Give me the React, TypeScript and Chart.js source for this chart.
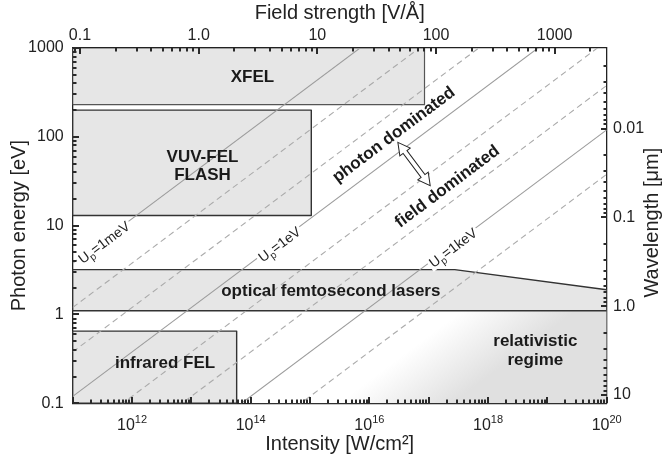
import React, { useEffect, useRef } from 'react';
import { Chart, registerables } from 'chart.js';

Chart.register(...registerables);

const FONT = '"Liberation Sans", Arial, Helvetica, sans-serif';

// ---------- axis ranges ----------
const intensityMin = 1e11;
const intensityMax = 1e20;
const energyMin = 0.1;
const energyMax = 1000;
const fieldMin = 0.0868; // V/Å at 1e11 W/cm²
const fieldMax = 2745; // V/Å at 1e20 W/cm²
const wavelengthTop = 0.00124; // µm at 1000 eV
const wavelengthBottom = 12.4; // µm at 0.1 eV

// ---------- tick labels ----------
const energyTicks = [0.1, 1, 10, 100, 1000];
const energyTickLabels = ['0.1', '1', '10', '100', '1000'];
const fieldTicks = [0.1, 1, 10, 100, 1000];
const fieldTickLabels = ['0.1', '1.0', '10', '100', '1000'];
const wavelengthTicks = [0.01, 0.1, 1, 10];
const wavelengthTickLabels = ['0.01', '0.1', '1.0', '10'];
const intensityLabelTicks = [1e12, 1e14, 1e16, 1e18, 1e20];
const intensityLabelExps = ['12', '14', '16', '18', '20'];

// ---------- constant ponderomotive-energy lines ----------
const upNames = ['1meV', '10meV', '100meV', '1eV', '10eV', '100eV', '1keV', '10keV'];
const upSolid = [true, false, false, true, false, false, true, false];
const upStartE = [3.788, 1.1978, 0.3788, 0.11978, 0.03788, 0.011978, 0.003788, 0.0011978]; // eV at 1e11 W/cm²
const upEndE = [119780, 37878, 11978, 3787.8, 1197.8, 378.78, 119.78, 37.878]; // eV at 1e20 W/cm²
const upLabelAt = [3.2e11, 0, 0, 2.9e14, 0, 0, 2.44e17, 0]; // intensity at label centre (0 = no label)

// ---------- source regions ----------
const xfelI = [1e11, 8.5e16, 8.5e16, 1e11, 1e11];
const xfelE = [1000, 1000, 230, 230, 1000];
const vuvI = [1e11, 1.05e15, 1.05e15, 1e11, 1e11];
const vuvE = [200, 200, 13, 13, 200];
const opticalI = [1e11, 2.75e17, 1e20, 1e20, 1e11, 1e11];
const opticalE = [3.2, 3.2, 1.9, 1.1, 1.1, 3.2];
const irI = [1e11, 5.8e13, 5.8e13, 1e11, 1e11];
const irE = [0.65, 0.65, 0.1, 0.1, 0.65];
const relI = [1e14, 1e20, 1e20, 1e14, 1e14];
const relE = [1.1, 1.1, 0.1, 0.1, 1.1];
const relFadeStartI = 3e15;
const relFadeEndI = 2.5e17;

// ---------- annotations ----------
const regionLabels = [
  { lines: ['XFEL'], I: 1.07e14, E: 466 },
  { lines: ['VUV-FEL', 'FLASH'], I: 1.54e13, E: 46.2 },
  { lines: ['optical femtosecond lasers'], I: 2.24e15, E: 1.81 },
  { lines: ['infrared FEL'], I: 3.6e12, E: 0.279 },
  { lines: ['relativistic', 'regime'], I: 6.27e18, E: 0.39 },
];
const slopeLabels = [
  { text: 'photon dominated', I: 2.6e16, E: 105 },
  { text: 'field dominated', I: 2.07e17, E: 27.4 },
];
const arrowAt = { I: 5.66e16, E: 49.4 };

// minor-tick multipliers inside each decade (1 = major)
const decadeSteps = [1, 2, 3, 4, 5, 6, 7, 8, 9];

const pts = (xs: number[], ys: number[]) => xs.map((x, i) => ({ x, y: ys[i] }));

function lineAngle(chart: any) {
  const xs = chart.scales.x, ys = chart.scales.y;
  const ax = xs.getPixelForValue(intensityMin), ay = ys.getPixelForValue(upStartE[3]);
  const bx = xs.getPixelForValue(intensityMax), by = ys.getPixelForValue(upEndE[3]);
  return Math.atan2(by - ay, bx - ax);
}

function relGradient(context: any) {
  const chart = context.chart;
  if (!chart.chartArea || !chart.scales.x || !chart.scales.y) return 'rgba(0,0,0,0)';
  const xs = chart.scales.x, ys = chart.scales.y;
  const ang = lineAngle(chart);
  const nx = -Math.sin(ang), ny = Math.cos(ang);
  const p0x = xs.getPixelForValue(relFadeStartI), p0y = ys.getPixelForValue(energyMin);
  const p1x = xs.getPixelForValue(relFadeEndI);
  const d = (p1x - p0x) * nx;
  const g = chart.ctx.createLinearGradient(p0x, p0y, p0x + nx * d, p0y + ny * d);
  g.addColorStop(0, 'rgba(255,255,255,1)');
  g.addColorStop(1, '#e0e0e0');
  return g;
}

function logTickValues(min: number, max: number) {
  const out: { v: number; major: boolean }[] = [];
  const e0 = Math.floor(Math.log10(min));
  const e1 = Math.ceil(Math.log10(max));
  for (let e = e0; e <= e1; e++) {
    for (let j = 0; j < decadeSteps.length; j++) {
      const k = decadeSteps[j];
      const v = k * Math.pow(10, e);
      if (v >= min * 0.9999 && v <= max * 1.0001) out.push({ v, major: k === 1 });
    }
  }
  return out;
}

const overlayPlugin = {
  id: 'overlay',
  afterDraw(chart: any) {
    const ctx = chart.ctx;
    const a = chart.chartArea;
    const xs = chart.scales.x, ys = chart.scales.y, xt = chart.scales.x2, yr = chart.scales.y2;
    ctx.save();

    // ---- inward tick marks ----
    ctx.fillStyle = '#2a2a2a';
    const MAJ = 6, MINR = 3.5;
    const bottom = Math.round(a.bottom), top = Math.round(a.top);
    const left = Math.round(a.left), right = Math.round(a.right);
    const tb = logTickValues(intensityMin, intensityMax);
    for (let i = 0; i < tb.length; i++) {
      const x = Math.round(xs.getPixelForValue(tb[i].v));
      const len = tb[i].major ? MAJ : MINR;
      ctx.fillRect(x - 1, bottom - len, 2, len);
    }
    const tt = logTickValues(fieldMin, fieldMax);
    for (let i = 0; i < tt.length; i++) {
      const x = Math.round(xt.getPixelForValue(tt[i].v));
      const len = tt[i].major ? MAJ : MINR;
      ctx.fillRect(x - 1, top, 2, len);
    }
    const tl = logTickValues(energyMin, energyMax);
    for (let i = 0; i < tl.length; i++) {
      const y = Math.round(ys.getPixelForValue(tl[i].v));
      const len = tl[i].major ? MAJ : MINR;
      ctx.fillRect(left, y - 1, len, 2);
    }
    const tr = logTickValues(wavelengthTop, wavelengthBottom);
    for (let i = 0; i < tr.length; i++) {
      const y = Math.round(yr.getPixelForValue(tr[i].v));
      const len = tr[i].major ? MAJ : MINR;
      ctx.fillRect(right - len, y - 1, len, 2);
    }

    // ---- bottom tick labels with superscripts ----
    ctx.fillStyle = '#222';
    ctx.textAlign = 'left';
    ctx.textBaseline = 'alphabetic';
    intensityLabelTicks.forEach((v, i) => {
      const x = xs.getPixelForValue(v);
      ctx.font = `16px ${FONT}`;
      const wb = ctx.measureText('10').width;
      ctx.font = `11px ${FONT}`;
      const ws = ctx.measureText(intensityLabelExps[i]).width;
      const x0 = x - (wb + ws) / 2;
      const base = a.bottom + 26.5;
      ctx.font = `16px ${FONT}`;
      ctx.fillText('10', x0, base);
      ctx.font = `11px ${FONT}`;
      ctx.fillText(intensityLabelExps[i], x0 + wb, base - 7);
    });

    // ---- right axis title (reads bottom to top) ----
    ctx.save();
    ctx.translate(652, (a.top + a.bottom) / 2 - 3);
    ctx.rotate(-Math.PI / 2);
    ctx.font = `20px ${FONT}`;
    ctx.textAlign = 'center';
    ctx.textBaseline = 'middle';
    ctx.fillText('Wavelength [\u03bcm]', 0, 0);
    ctx.restore();

    const ang = lineAngle(chart);
    const nx = -Math.sin(ang), ny = Math.cos(ang);

    // ---- Up labels on solid lines ----
    upLabelAt.forEach((I, i) => {
      if (!I) return;
      const ax = xs.getPixelForValue(intensityMin), ay = ys.getPixelForValue(upStartE[i]);
      const bx = xs.getPixelForValue(intensityMax), by = ys.getPixelForValue(upEndE[i]);
      const px = xs.getPixelForValue(I);
      const py = ay + ((px - ax) * (by - ay)) / (bx - ax);
      ctx.save();
      ctx.translate(px + nx * 2, py + ny * 2);
      ctx.rotate(ang);
      ctx.font = `14px ${FONT}`;
      const wU = ctx.measureText('U').width;
      const rest = '=' + upNames[i];
      const wR = ctx.measureText(rest).width;
      ctx.font = `10px ${FONT}`;
      const wP = ctx.measureText('p').width;
      const w = wU + wP + wR;
      ctx.fillStyle = '#ffffff';
      ctx.fillRect(-w / 2 - 2, -7, w + 4, 15);
      ctx.fillStyle = '#222';
      ctx.textAlign = 'left';
      ctx.textBaseline = 'alphabetic';
      ctx.font = `14px ${FONT}`;
      ctx.fillText('U', -w / 2, 5);
      ctx.font = `10px ${FONT}`;
      ctx.fillText('p', -w / 2 + wU, 8.5);
      ctx.font = `14px ${FONT}`;
      ctx.fillText(rest, -w / 2 + wU + wP, 5);
      ctx.restore();
    });

    // ---- region labels ----
    ctx.fillStyle = '#1a1a1a';
    ctx.font = `bold 17px ${FONT}`;
    ctx.textAlign = 'center';
    ctx.textBaseline = 'middle';
    for (const r of regionLabels) {
      const x = xs.getPixelForValue(r.I), y = ys.getPixelForValue(r.E);
      const lh = 18.3;
      r.lines.forEach((s, k) => {
        ctx.fillText(s, x, y + (k - (r.lines.length - 1) / 2) * lh);
      });
    }

    // ---- rotated regime labels ----
    for (const s of slopeLabels) {
      const x = xs.getPixelForValue(s.I), y = ys.getPixelForValue(s.E);
      ctx.save();
      ctx.translate(x, y);
      ctx.rotate(ang);
      ctx.fillText(s.text, 0, 0);
      ctx.restore();
    }

    // ---- hollow double arrow ----
    {
      const x = xs.getPixelForValue(arrowAt.I), y = ys.getPixelForValue(arrowAt.E);
      const L = 54, h = 12, hw = 6.5, sw = 2.4;
      ctx.save();
      ctx.translate(x, y);
      ctx.rotate(Math.atan2(ny, nx));
      ctx.beginPath();
      ctx.moveTo(-L / 2, 0);
      ctx.lineTo(-L / 2 + h, -hw);
      ctx.lineTo(-L / 2 + h, -sw);
      ctx.lineTo(L / 2 - h, -sw);
      ctx.lineTo(L / 2 - h, -hw);
      ctx.lineTo(L / 2, 0);
      ctx.lineTo(L / 2 - h, hw);
      ctx.lineTo(L / 2 - h, sw);
      ctx.lineTo(-L / 2 + h, sw);
      ctx.lineTo(-L / 2 + h, hw);
      ctx.closePath();
      ctx.fillStyle = '#ffffff';
      ctx.fill();
      ctx.strokeStyle = '#222';
      ctx.lineWidth = 1;
      ctx.setLineDash([]);
      ctx.stroke();
      ctx.restore();
    }

    ctx.restore();
  },
};

export default function App() {
  const ref = useRef<HTMLCanvasElement>(null);

  useEffect(() => {
    document.body.style.margin = '0';
    document.body.style.overflow = 'hidden';
    Chart.defaults.font.family = FONT;
    Chart.defaults.color = '#222';

    const datasets: any[] = [];
    upNames.forEach((name, i) => {
      datasets.push({
        label: 'Up=' + name,
        data: [
          { x: intensityMin, y: upStartE[i] },
          { x: intensityMax, y: upEndE[i] },
        ],
        borderColor: upSolid[i] ? '#9c9c9c' : '#ababab',
        borderWidth: 1.1,
        borderDash: upSolid[i] ? [] : [6, 4],
        pointRadius: 0,
        fill: false,
        order: 1,
      });
    });
    const box = (label: string, xs: number[], ys: number[], color: string, width: number) => ({
      label,
      data: pts(xs, ys),
      borderColor: color,
      borderWidth: width,
      backgroundColor: '#e6e6e6',
      borderJoinStyle: 'round',
      pointRadius: 0,
      fill: 'shape',
      order: 2,
    });
    datasets.push(box('XFEL', xfelI, xfelE, '#555', 1.2));
    datasets.push(box('VUV-FEL FLASH', vuvI, vuvE, '#333', 1.4));
    datasets.push(box('optical femtosecond lasers', opticalI, opticalE, '#333', 1.4));
    datasets.push(box('infrared FEL', irI, irE, '#333', 1.4));
    datasets.push({
      label: 'relativistic regime',
      data: pts(relI, relE),
      borderWidth: 0,
      borderColor: 'rgba(0,0,0,0)',
      backgroundColor: relGradient,
      pointRadius: 0,
      fill: 'shape',
      order: 3,
    });

    const hidden = { display: false, drawTicks: false };
    const border = { display: true, color: '#222', width: 1.3 };

    const chart = new Chart(ref.current as HTMLCanvasElement, {
      type: 'line',
      data: { datasets },
      plugins: [overlayPlugin],
      options: {
        animation: false,
        responsive: false,
        events: [],
        layout: { padding: 0 },
        plugins: { legend: { display: false }, tooltip: { enabled: false } },
        scales: {
          x: {
            type: 'logarithmic', position: 'bottom', min: intensityMin, max: intensityMax, z: 1,
            grid: hidden, border, ticks: { display: false },
            afterBuildTicks: (s: any) => { s.ticks = intensityLabelTicks.map((v) => ({ value: v })); },
            title: { display: true, text: 'Intensity [W/cm\u00b2]', font: { size: 20 }, color: '#222', padding: { top: 0, bottom: 4.5 } },
            afterFit: (s: any) => { s.height = 57.7; },
          },
          x2: {
            type: 'logarithmic', position: 'top', min: fieldMin, max: fieldMax, z: 1,
            grid: hidden, border,
            ticks: { autoSkip: false, maxRotation: 0, padding: 2.5, font: { size: 16 }, color: '#222', callback: (_v: any, i: number) => fieldTickLabels[i] },
            afterBuildTicks: (s: any) => { s.ticks = fieldTicks.map((v) => ({ value: v })); },
            title: { display: true, text: 'Field strength [V/\u00c5]', font: { size: 20 }, color: '#222', padding: { top: 1.5, bottom: 0 } },
            afterFit: (s: any) => { s.height = 48; },
          },
          y: {
            type: 'logarithmic', position: 'left', min: energyMin, max: energyMax, z: 1,
            grid: hidden, border,
            ticks: { autoSkip: false, padding: 9, font: { size: 16 }, color: '#222', callback: (_v: any, i: number) => energyTickLabels[i] },
            afterBuildTicks: (s: any) => { s.ticks = energyTicks.map((v) => ({ value: v })); },
            title: { display: true, text: 'Photon energy [eV]', font: { size: 20 }, color: '#222', padding: { top: 7.3, bottom: 0 } },
            afterFit: (s: any) => { s.width = 72.7; },
          },
          y2: {
            type: 'logarithmic', position: 'right', min: wavelengthTop, max: wavelengthBottom, reverse: true, z: 1,
            grid: hidden, border,
            ticks: { autoSkip: false, padding: 6.3, font: { size: 16 }, color: '#222', callback: (_v: any, i: number) => wavelengthTickLabels[i] },
            afterBuildTicks: (s: any) => { s.ticks = wavelengthTicks.map((v) => ({ value: v })); },
            afterFit: (s: any) => { s.width = 56.3; },
          },
        },
      } as any,
    });
    return () => chart.destroy();
  }, []);

  return (
    <div style={{ width: 663, height: 461 }}>
      <canvas ref={ref} width={663} height={461} style={{ display: 'block' }} />
    </div>
  );
}
